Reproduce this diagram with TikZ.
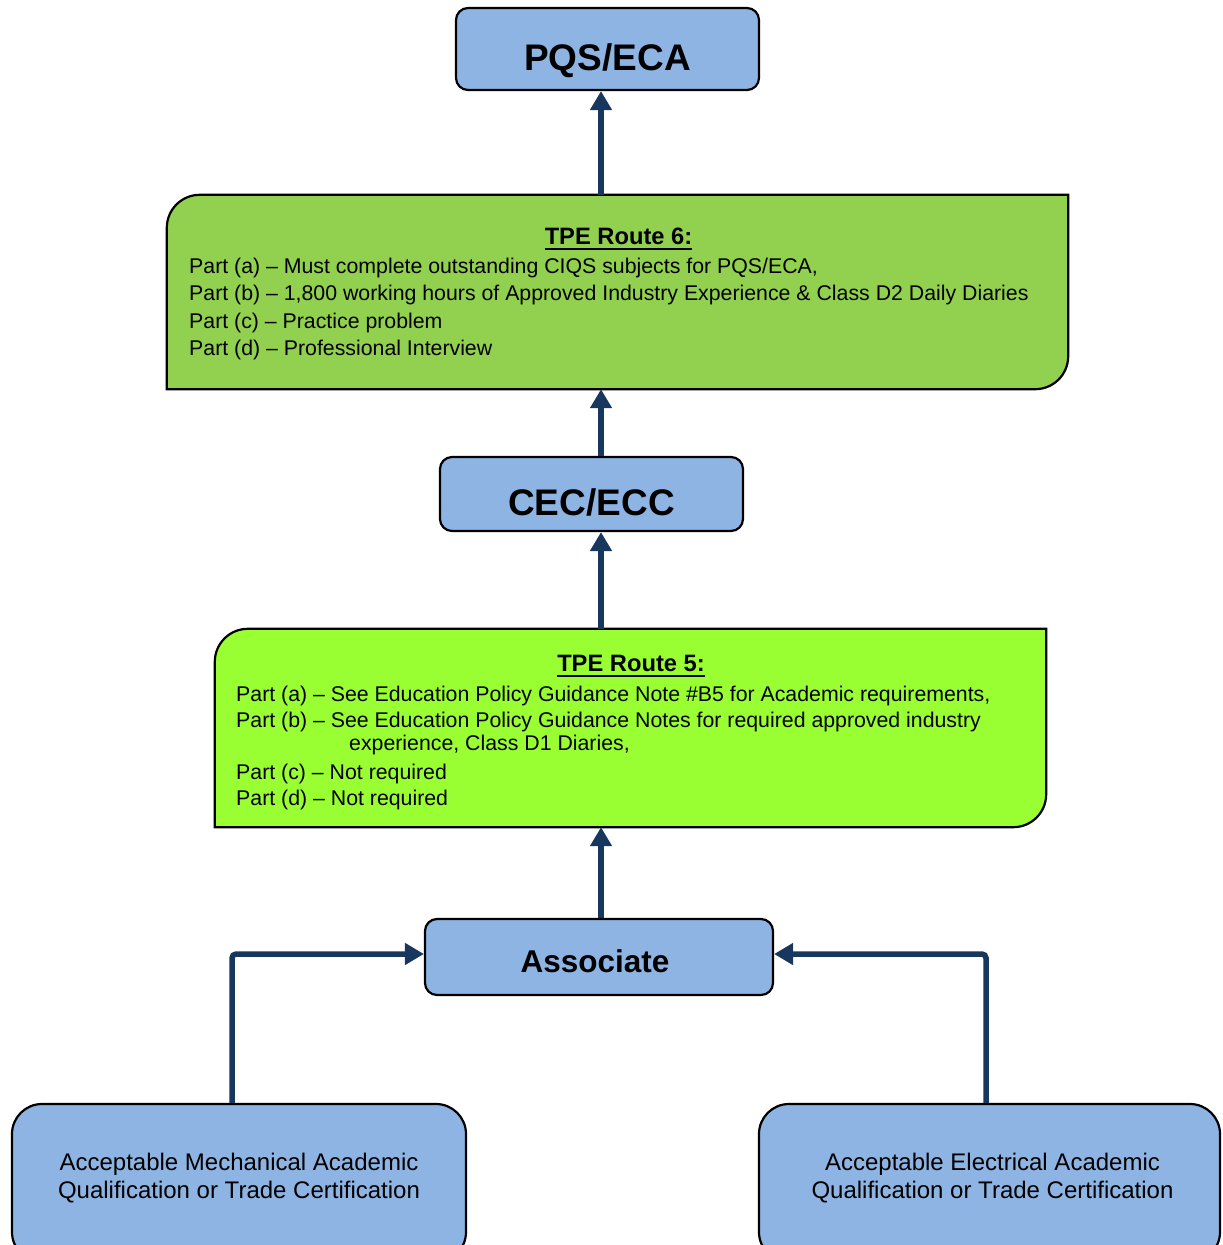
\documentclass[tikz,border=0pt]{standalone}
\usepackage{fontspec}
\setmainfont{Liberation Sans}
\usetikzlibrary{arrows.meta}
\definecolor{boxblue}{HTML}{8EB4E3}
\definecolor{greenA}{HTML}{92D050}
\definecolor{greenB}{HTML}{99FF33}
\definecolor{navy}{HTML}{17375E}
\begin{document}
\begin{tikzpicture}[x=1pt,y=-1pt,
  bluebox/.style={draw=black, line width=2.2pt, fill=boxblue, rounded corners=12pt, inner sep=0pt},
  bigbox/.style={draw=black, line width=2.2pt, fill=boxblue, rounded corners=30pt, inner sep=0pt},
  frame/.style={inner sep=0pt, draw=none},
  greenframe/.style={draw=black, line width=2.2pt},
  body/.style={inner sep=0pt, anchor=base west, font=\fontsize{21.3}{27}\selectfont},
  ctr/.style={inner sep=0pt, anchor=base, font=\fontsize{24}{28}\selectfont},
  ttl/.style={inner sep=0pt, anchor=base, font=\fontsize{23.7}{27}\selectfont\bfseries},
  big/.style={inner sep=0pt, anchor=base, font=\fontsize{37}{44}\selectfont\bfseries},
  mid/.style={inner sep=0pt, anchor=base, font=\fontsize{31.5}{38}\selectfont\bfseries},
  arr/.style={draw=navy, line width=5.5pt, -{Triangle[width=21pt,length=19pt]}},
]
\useasboundingbox (0,0) rectangle (1223,1245);

% frames
\node[frame, minimum width=901pt, minimum height=194pt] (tpe6) at (617.5,292) {};
\node[frame, minimum width=831pt, minimum height=198pt] (tpe5) at (630.5,728) {};

\path[greenframe, fill=greenA] (tpe6.south west) -- ([yshift=-33pt]tpe6.north west) arc (180:270:33) -- (tpe6.north east) -- ([yshift=33pt]tpe6.south east) arc (0:90:33) -- cycle;
\path[greenframe, fill=greenB] (tpe5.south west) -- ([yshift=-33pt]tpe5.north west) arc (180:270:33) -- (tpe5.north east) -- ([yshift=33pt]tpe5.south east) arc (0:90:33) -- cycle;

\node[bluebox, minimum width=303pt, minimum height=82pt] (pqs) at (607.5,49) {};
\node[bluebox, minimum width=303pt, minimum height=74pt] (cec) at (591.5,494) {};
\node[bluebox, minimum width=348pt, minimum height=76pt] (assoc) at (599,957) {};
\node[bigbox, minimum width=454pt, minimum height=158pt] (mech) at (239,1183) {};
\node[bigbox, minimum width=461pt, minimum height=158pt] (elec) at (989.5,1183) {};

% labels
\node[big] (pqsl) at (607.5,70) {PQS/ECA};
\node[big] (cecl) at (591.5,515) {CEC/ECC};
\node[mid] (assocl) at (595,972) {Associate};

\node[ttl] (t6) at (618.5,244) {TPE Route 6:};
\draw[line width=2.2pt] ([yshift=-5pt]t6.base west) -- ([yshift=-5pt]t6.base east);
\node[body] (t6a) at (189,273) {Part (a) – Must complete outstanding CIQS subjects for PQS/ECA,};
\node[body] (t6b) at (189,300) {Part (b) – 1,800 working hours of Approved Industry Experience \& Class D2 Daily Diaries};
\node[body] (t6c) at (189,328) {Part (c) – Practice problem};
\node[body] (t6d) at (189,355) {Part (d) – Professional Interview};

\node[ttl] (t5) at (631,671) {TPE Route 5:};
\draw[line width=2.2pt] ([yshift=-5pt]t5.base west) -- ([yshift=-5pt]t5.base east);
\node[body] (t5a) at (236,701) {Part (a) – See Education Policy Guidance Note \#B5 for Academic requirements,};
\node[body] (t5b) at (236,727) {Part (b) – See Education Policy Guidance Notes for required approved industry};
\node[body] (t5b2) at (349,750) {experience, Class D1 Diaries,};
\node[body] (t5c) at (236,779) {Part (c) – Not required};
\node[body] (t5d) at (236,805) {Part (d) – Not required};

\node[ctr] (m1) at (239,1170) {Acceptable Mechanical Academic};
\node[ctr] (m2) at (239,1198) {Qualification or Trade Certification};
\node[ctr] (e1) at (992.5,1170) {Acceptable Electrical Academic};
\node[ctr] (e2) at (992.5,1198) {Qualification or Trade Certification};

% connectors
\coordinate (ax) at (601,0);
\coordinate (cl) at (232,0);
\coordinate (cr) at (986,0);
\draw[arr] (tpe6.north -| ax) -- (pqs.south -| ax);
\draw[arr] (cec.north -| ax) -- (tpe6.south -| ax);
\draw[arr] (tpe5.north -| ax) -- (cec.south -| ax);
\draw[arr] (assoc.north -| ax) -- (tpe5.south -| ax);
\draw[arr, rounded corners=4pt] (mech.north -| cl) |- ([yshift=3pt]assoc.west);
\draw[arr, rounded corners=4pt] (elec.north -| cr) |- ([yshift=3pt]assoc.east);
\end{tikzpicture}
\end{document}
